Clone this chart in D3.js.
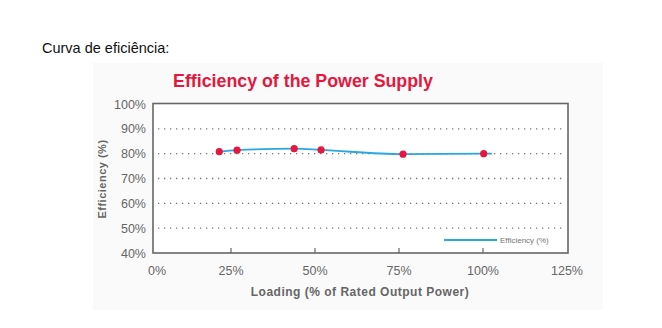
<!DOCTYPE html>
<html><head><meta charset="utf-8">
<script src="https://cdn.jsdelivr.net/npm/d3@7"></script>
<style>body{margin:0;background:#fff;}svg{display:block;}</style>
</head><body>
<svg id="c" width="662" height="328"></svg>
<script>
const pageLabel = "Curva de eficiência:";
const chartTitle = "Efficiency of the Power Supply";
const xAxisTitle = "Loading (% of Rated Output Power)";
const yAxisTitle = "Efficiency (%)";
const legendLabel = "Efficiency (%)";
const xTicks = [0, 25, 50, 75, 100, 125];
const yTicks = [40, 50, 60, 70, 80, 90, 100];
const gridValues = [50, 60, 70, 80, 90];
const pointLoad = [21.5, 26.8, 43.8, 51.8, 76.2, 100.2];
const pointEff = [80.8, 81.4, 82.0, 81.5, 79.8, 80.0];
const lineLoad = [21.5, 26.8, 43.8, 51.8, 76.2, 100.2, 102.6];
const lineEff = [80.8, 81.4, 82.0, 81.5, 79.8, 80.0, 80.0];

const svg = d3.select("#c");
const font = "Liberation Sans, Arial, sans-serif";
svg.append("text").attr("x", 42).attr("y", 53).text(pageLabel)
  .attr("font-family", font).attr("font-size", 14.5).attr("fill", "#111");

svg.append("rect").attr("x", 93).attr("y", 63).attr("width", 510).attr("height", 247).attr("fill", "#fafafa");

const frameL = 153, frameR = 568, frameT = 103.5, frameB = 253;
const x = d3.scaleLinear().domain([25, 125]).range([231, 567]);
const y = d3.scaleLinear().domain([40, 100]).range([frameB, 104]);

svg.append("text").attr("x", 303).attr("y", 87).attr("text-anchor", "middle").text(chartTitle)
  .attr("font-family", font).attr("font-size", 17.8).attr("font-weight", "bold").attr("fill", "#e5173f");

svg.append("rect").attr("x", frameL).attr("y", frameT).attr("width", frameR - frameL).attr("height", frameB - frameT)
  .attr("fill", "#fff").attr("stroke", "#666").attr("stroke-width", 1.6);

svg.append("g").selectAll("line").data(gridValues).join("line")
  .attr("x1", frameL + 5).attr("x2", frameR - 6).attr("y1", d => y(d)).attr("y2", d => y(d))
  .attr("stroke", "#777").attr("stroke-width", 1.3).attr("stroke-dasharray", "1.3,4.7");

svg.append("g").selectAll("line").data(xTicks.filter(d => d > 0 && d < 125)).join("line")
  .attr("x1", d => x(d)).attr("x2", d => x(d)).attr("y1", frameB).attr("y2", frameB - 5)
  .attr("stroke", "#666").attr("stroke-width", 1.2);

svg.append("g").selectAll("text").data(xTicks).join("text")
  .attr("x", d => d === 0 ? x(d) + 10 : x(d)).attr("y", 275).attr("text-anchor", "middle")
  .text(d => d + "%").attr("font-family", font).attr("font-size", 12.5).attr("fill", "#666");

svg.append("g").selectAll("text").data(yTicks).join("text")
  .attr("x", 146).attr("y", d => y(d) + 4.5).attr("text-anchor", "end")
  .text(d => d + "%").attr("font-family", font).attr("font-size", 12.5).attr("fill", "#666");

svg.append("text").attr("x", 360).attr("y", 296).attr("text-anchor", "middle").text(xAxisTitle)
  .attr("font-family", font).attr("font-size", 12).attr("font-weight", "bold").attr("fill", "#666").attr("letter-spacing", 0.5);

svg.append("text").attr("transform", "translate(106,179) rotate(-90)").attr("text-anchor", "middle").text(yAxisTitle)
  .attr("font-family", font).attr("font-size", 11).attr("font-weight", "bold").attr("fill", "#666").attr("letter-spacing", 0.5);

const line = d3.line().x((d, i) => x(lineLoad[i])).y((d, i) => y(lineEff[i])).curve(d3.curveMonotoneX);
svg.append("path").datum(lineLoad).attr("d", line).attr("fill", "none").attr("stroke", "#2aa7df").attr("stroke-width", 1.8);

svg.append("g").selectAll("circle").data(pointLoad).join("circle")
  .attr("cx", (d) => x(d)).attr("cy", (d, i) => y(pointEff[i])).attr("r", 3.6).attr("fill", "#e5173f");

svg.append("line").attr("x1", 444).attr("x2", 497).attr("y1", 240).attr("y2", 240).attr("stroke", "#2aa7df").attr("stroke-width", 1.8);
svg.append("text").attr("x", 500).attr("y", 243).text(legendLabel)
  .attr("font-family", font).attr("font-size", 8).attr("fill", "#777");
</script>
</body></html>
